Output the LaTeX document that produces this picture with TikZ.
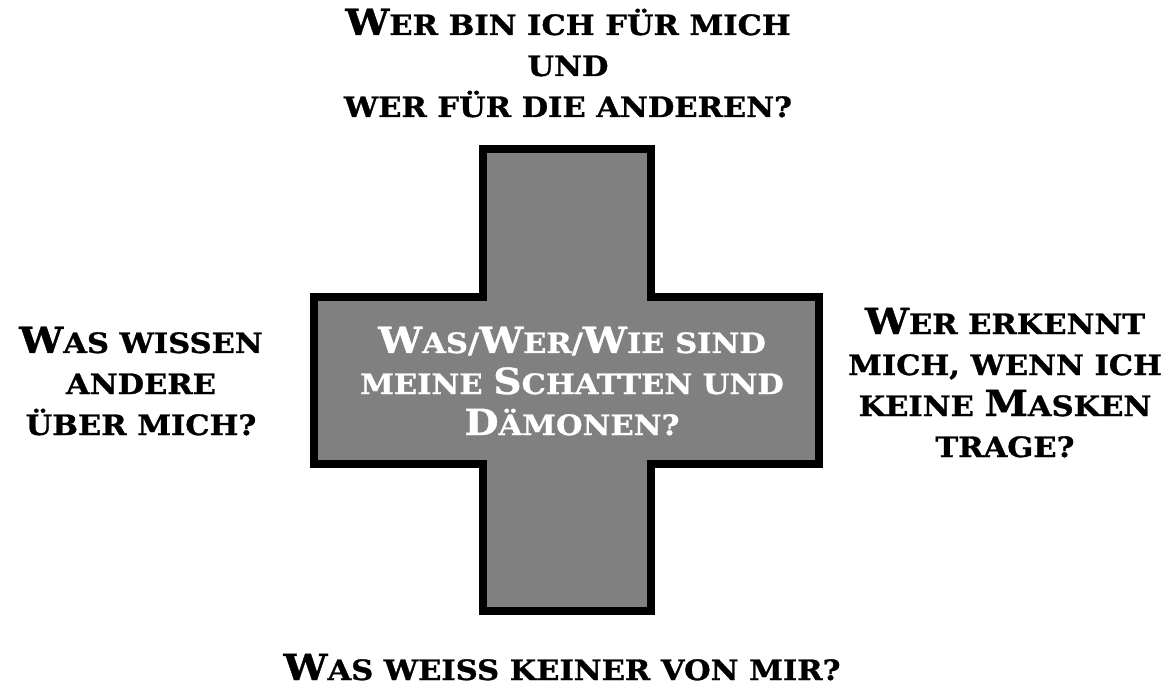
\documentclass[tikz,border=0pt]{standalone}
\usepackage{fontspec}
\setmainfont{DejaVu Serif}[BoldFont={DejaVu Serif Bold}, BoldFeatures={FakeStretch=1.09, FakeBold=1}]
\usetikzlibrary{shadows}
\newcommand\B[1]{{\fontsize{36}{41}\selectfont #1}}
\tikzset{
  txt/.style={font=\bfseries\fontsize{28}{41}\selectfont, align=center, anchor=base, inner sep=0pt, text=black},
  crossfill/.style={fill={rgb,255:red,128;green,128;blue,128}, draw=black, line width=8pt, line join=miter,
    drop shadow={opacity=0.35, shadow xshift=2pt, shadow yshift=-3pt}}
}
\begin{document}
\begin{tikzpicture}[x=1pt,y=-1pt]
\fill[white] (0,0) rectangle (1175,700);
\useasboundingbox (0,0) rectangle (1175,700);
% cross
\path[crossfill] (483,149) -- (651,149) -- (651,297) -- (819,297) -- (819,464) -- (651,464)
  -- (651,611) -- (483,611) -- (483,464) -- (314,464) -- (314,297) -- (483,297) -- cycle;
% texts (anchor base = baseline of the last line)
\node[txt] (top) at (568,117) {\B{W}ER BIN ICH FÜR MICH\\UND\\WER FÜR DIE ANDEREN?};
\node[txt] (left) at (141,435) {\B{W}AS WISSEN\\ANDERE\\ÜBER MICH?};
\node[txt] (right) at (1005,457) {\B{W}ER ERKENNT\\MICH, WENN ICH\\KEINE \B{M}ASKEN\\TRAGE?};
\node[txt, text=white] (center) at (572,435) {\B{W}AS/\B{W}ER/\B{W}IE SIND\\MEINE \B{S}CHATTEN UND\\\B{D}ÄMONEN?};
\node[txt] (bottom) at (562,680) {\B{W}AS WEISS KEINER VON MIR?};
\end{tikzpicture}
\end{document}
